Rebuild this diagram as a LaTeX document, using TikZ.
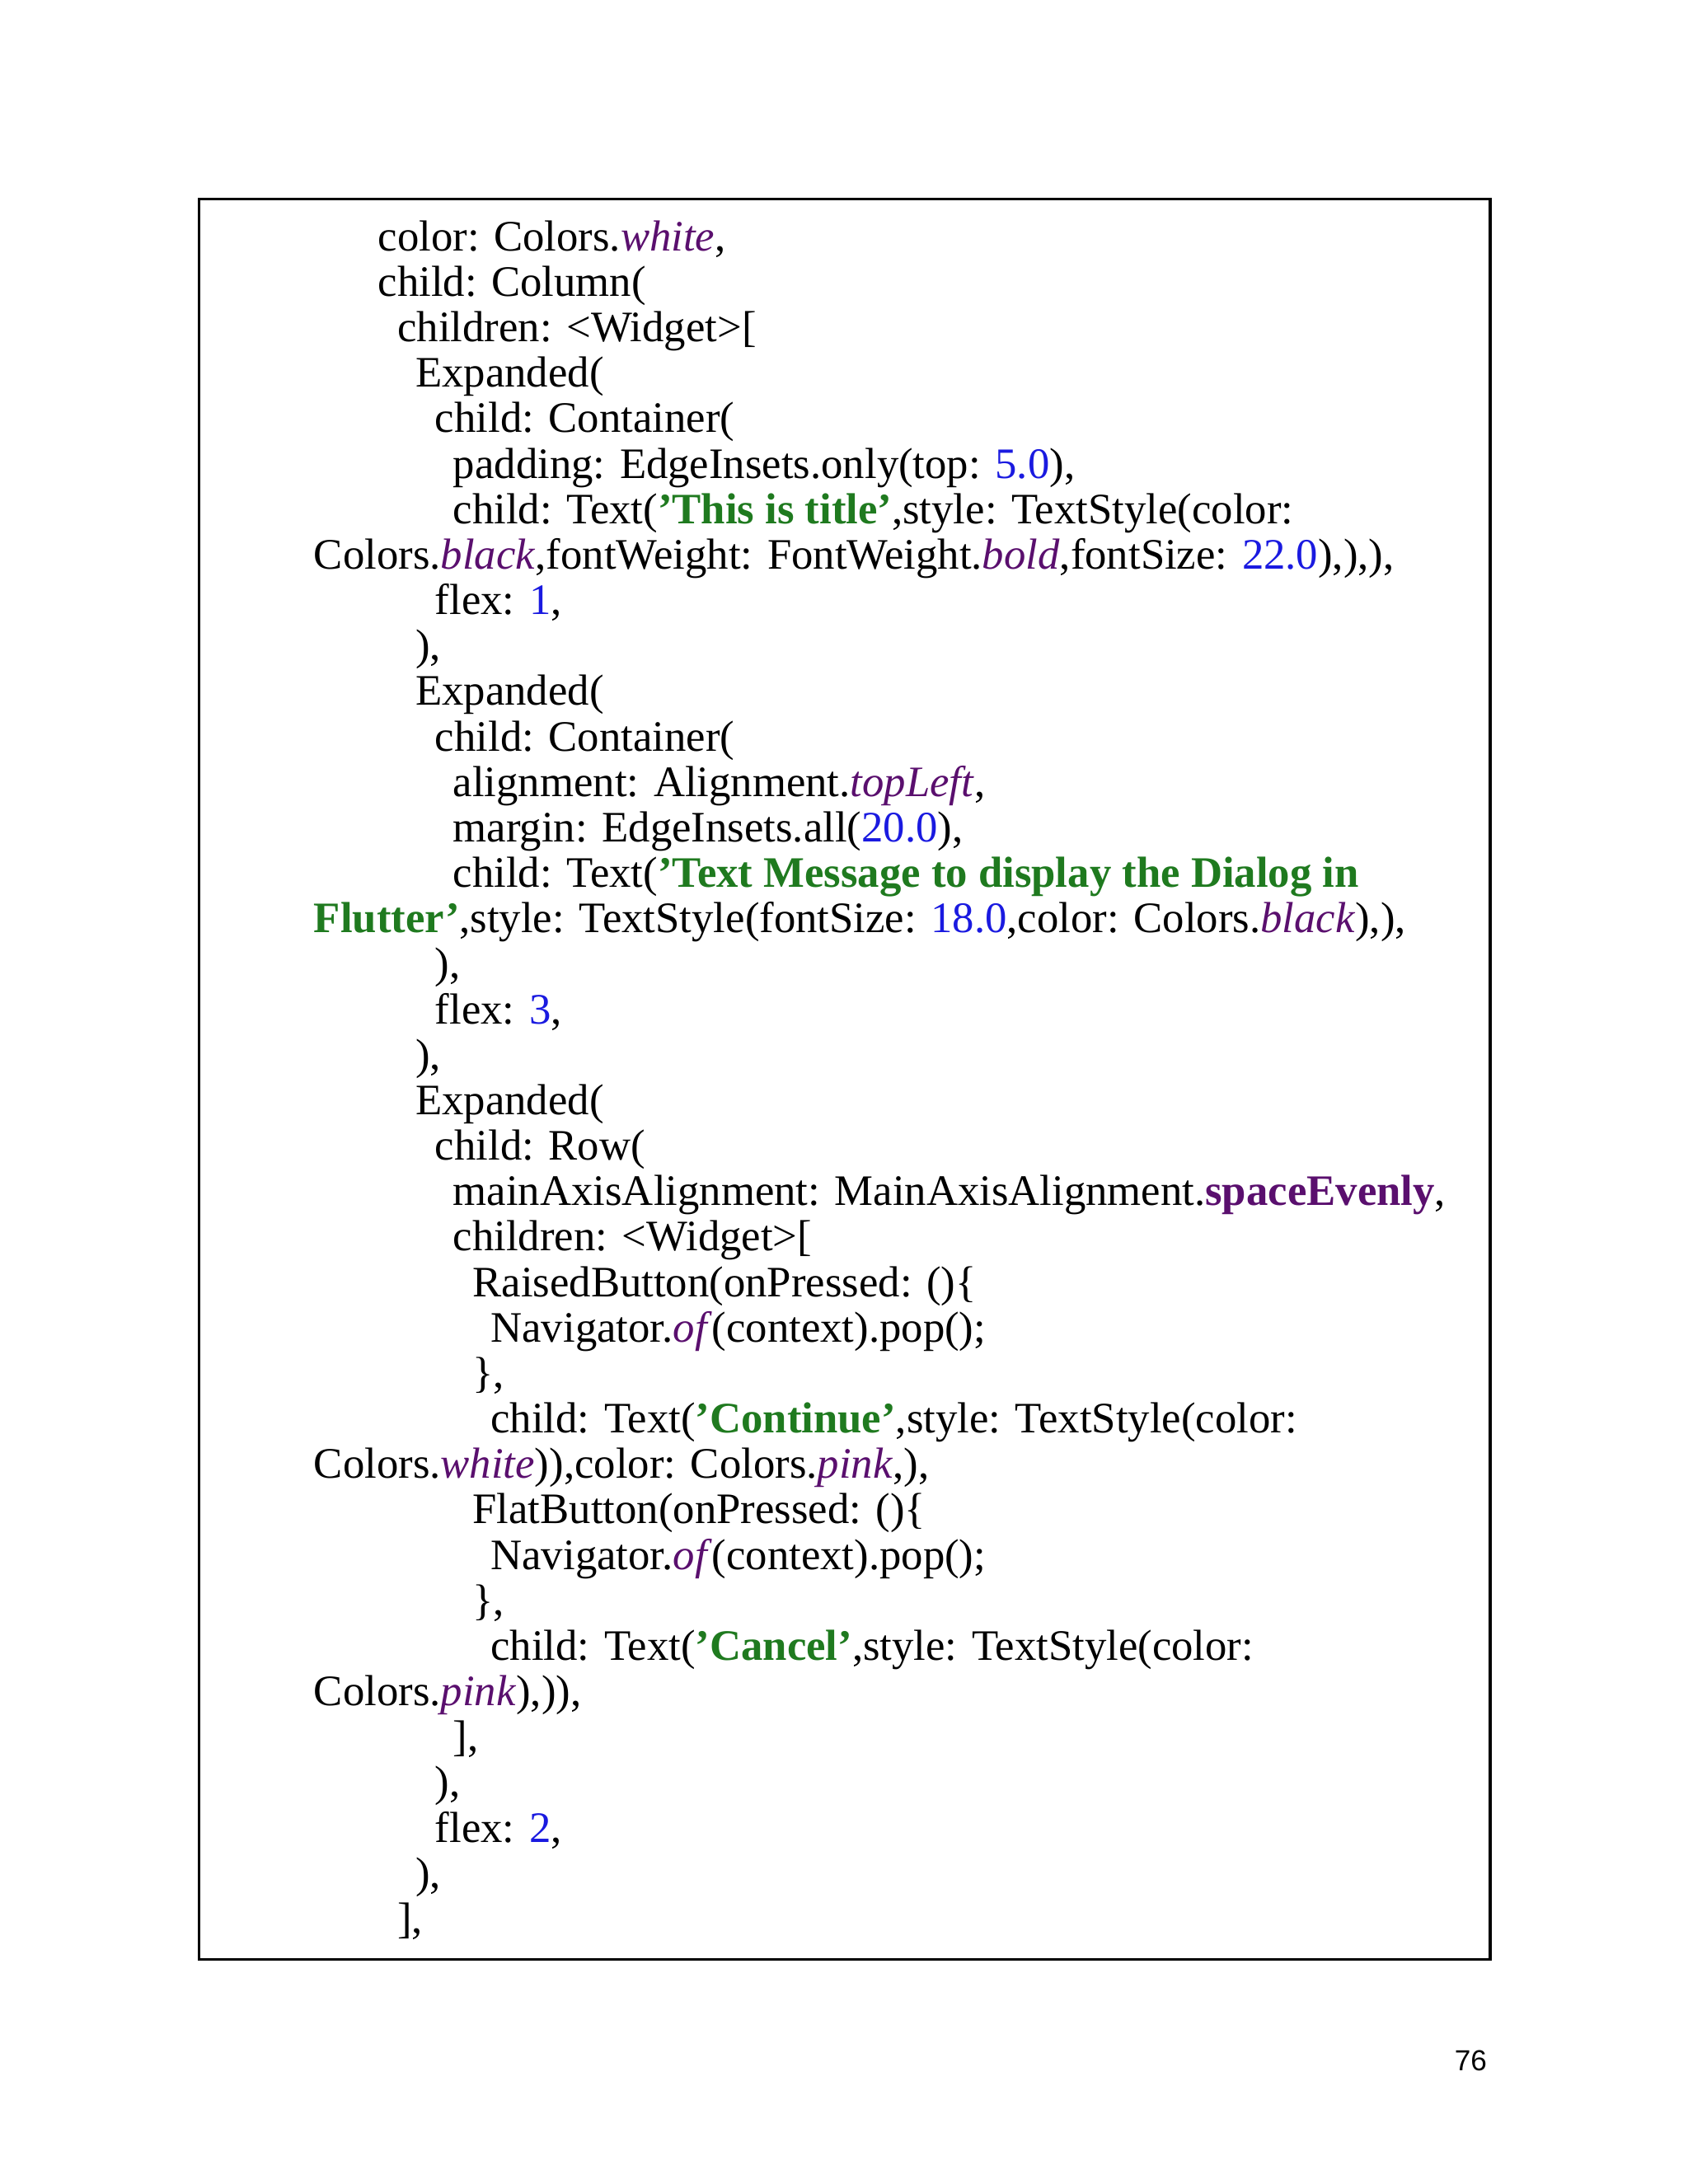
\documentclass[tikz,border=0pt]{standalone}
\usepackage{fontspec}
\setmainfont{Liberation Serif}
\newfontfamily\pgfont{Liberation Sans}
\definecolor{kwp}{HTML}{5A0F6E}
\definecolor{strg}{HTML}{1F7A1F}
\definecolor{numb}{HTML}{1A1AE0}
\newcommand{\pu}[1]{\textcolor{kwp}{\textit{#1}}}
\newcommand{\bpu}[1]{\textcolor{kwp}{\textbf{#1}}}
\newcommand{\st}[1]{\textcolor{strg}{\textbf{#1}}}
\newcommand{\nm}[1]{\textcolor{numb}{#1}}
\begin{document}
\begin{tikzpicture}[x=0.016898cm,y=-0.016898cm,
  codeline/.style={anchor=base west,inner sep=0pt,font=\fontsize{15}{18}\selectfont}]
\useasboundingbox (0,0) rectangle (1212,1568.3);
\fill[white] (0,0) rectangle (1212,1568.3);
\draw[line width=0.9pt] (143,143) rectangle (1070,1407);
\def\L#1#2#3{\node[codeline] (l#1) at (#2,{180+32.65*#1}) {#3};}
\L{0}{271}{color: Colors.\pu{white},}
\L{1}{271}{child: Column(}
\L{2}{285}{children: <Widget>[}
\L{3}{298}{Expanded(}
\L{4}{312}{child: Container(}
\L{5}{325}{padding: EdgeInsets.only(top: \nm{5.0}),}
\L{6}{325}{child: Text(\st{'This is title'},style: TextStyle(color:}
\L{7}{225}{Colors.\pu{black},fontWeight: FontWeight.\pu{bold},fontSize: \nm{22.0}),),),}
\L{8}{312}{flex: \nm{1},}
\L{9}{298}{),}
\L{10}{298}{Expanded(}
\L{11}{312}{child: Container(}
\L{12}{325}{alignment: Alignment.\pu{topLeft},}
\L{13}{325}{margin: EdgeInsets.all(\nm{20.0}),}
\L{14}{325}{child: Text(\st{'Text Message to display the Dialog in}}
\L{15}{225}{\st{Flutter'},style: TextStyle(fontSize: \nm{18.0},color: Colors.\pu{black}),),}
\L{16}{312}{),}
\L{17}{312}{flex: \nm{3},}
\L{18}{298}{),}
\L{19}{298}{Expanded(}
\L{20}{312}{child: Row(}
\L{21}{325}{mainAxisAlignment: MainAxisAlignment.\bpu{spaceEvenly},}
\L{22}{325}{children: <Widget>[}
\L{23}{339}{RaisedButton(onPressed: ()\{}
\L{24}{352}{Navigator.\pu{of}(context).pop();}
\L{25}{339}{\},}
\L{26}{352}{child: Text(\st{'Continue'},style: TextStyle(color:}
\L{27}{225}{Colors.\pu{white})),color: Colors.\pu{pink},),}
\L{28}{339}{FlatButton(onPressed: ()\{}
\L{29}{352}{Navigator.\pu{of}(context).pop();}
\L{30}{339}{\},}
\L{31}{352}{child: Text(\st{'Cancel'},style: TextStyle(color:}
\L{32}{225}{Colors.\pu{pink}),)),}
\L{33}{325}{],}
\L{34}{312}{),}
\L{35}{312}{flex: \nm{2},}
\L{36}{298}{),}
\L{37}{285}{],}
\node[anchor=base east,inner sep=0pt,font=\pgfont\fontsize{10}{12}\selectfont] (pg) at (1068,1487) {76};
\end{tikzpicture}
\end{document}
